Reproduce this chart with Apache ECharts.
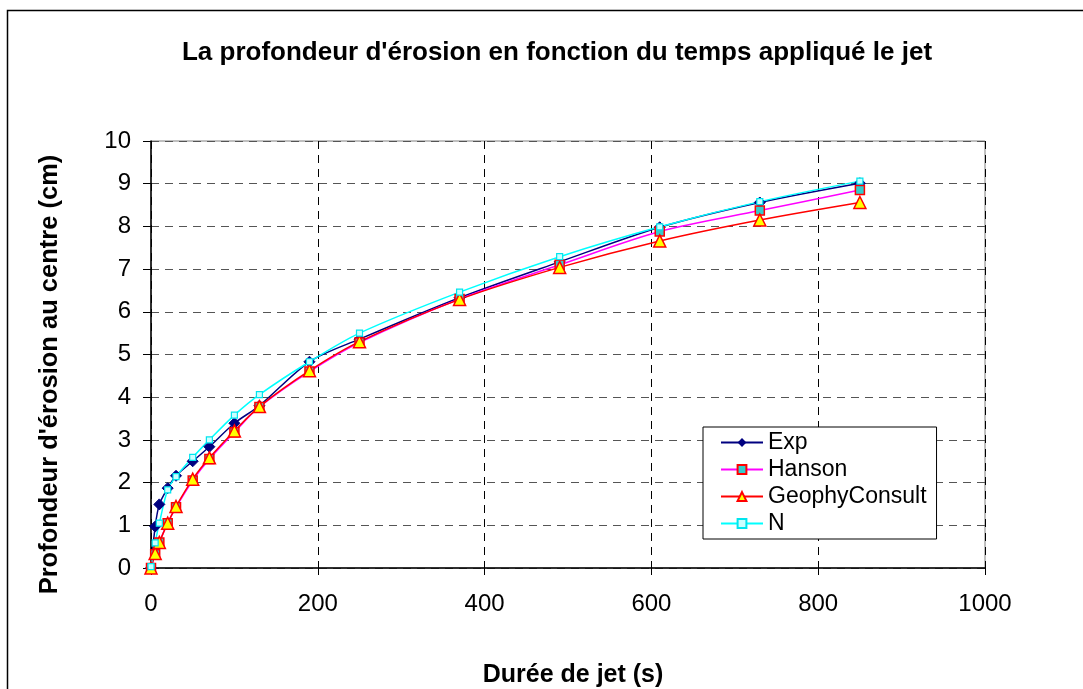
<!DOCTYPE html>
<html>
<head>
<meta charset="utf-8">
<script src="https://cdn.jsdelivr.net/npm/echarts@6/dist/echarts.min.js"></script>
<style>
html, body { margin: 0; padding: 0; background: #fff; }
#chart { width: 1083px; height: 689px; }
</style>
</head>
<body>
<div id="chart"></div>
<script>
var times = [0, 5, 10, 20, 30, 50, 70, 100, 130, 190, 250, 370, 490, 610, 730, 850];
var expVals = [0, 0.97, 1.49, 1.87, 2.16, 2.5, 2.84, 3.39, 3.8, 4.83, 5.36, 6.33, 7.17, 7.98, 8.56, 9.01];
var hansonVals = [0, 0.32, 0.6, 1.05, 1.42, 2.05, 2.55, 3.18, 3.77, 4.6, 5.28, 6.3, 7.1, 7.88, 8.37, 8.85];
var geoVals = [0, 0.34, 0.6, 1.05, 1.44, 2.08, 2.58, 3.21, 3.78, 4.62, 5.3, 6.29, 7.04, 7.66, 8.15, 8.56];
var nVals = [0.03, 0.59, 1.05, 1.83, 2.14, 2.59, 3.0, 3.58, 4.06, 4.83, 5.5, 6.46, 7.29, 7.99, 8.58, 9.06];

function pairs(vals) {
    return times.map(function (t, i) { return [t, vals[i]]; });
}

var font = 'Liberation Sans, Arial, sans-serif';
var myChart = echarts.init(document.getElementById('chart'));
var option = {
    animation: false,
    backgroundColor: '#fff',
    graphic: [{
        type: 'rect',
        shape: { x: 7.5, y: 10.5, width: 1100, height: 700 },
        style: { fill: 'none', stroke: '#000', lineWidth: 1.5 },
        silent: true
    }],
    title: {
        text: "La profondeur d'érosion en fonction du temps appliqué le jet",
        left: 552,
        textAlign: 'center',
        top: 35,
        textStyle: { fontFamily: font, fontSize: 26, fontWeight: 'bold', color: '#000' }
    },
    grid: {
        left: 151, right: 98, top: 141, bottom: 121,
        outerBoundsMode: 'none',
        show: true, borderColor: '#808080', borderWidth: 1
    },
    legend: {
        orient: 'vertical',
        left: 703, top: 427,
        padding: [4, 10, 4, 17],
        itemGap: 4,
        itemWidth: 42,
        itemHeight: 11,
        borderColor: '#000', borderWidth: 1,
        backgroundColor: '#fff',
        textStyle: { fontFamily: font, fontSize: 23, color: '#000' },
        data: ['Exp', 'Hanson', 'GeophyConsult', 'N']
    },
    xAxis: {
        type: 'value',
        min: 0, max: 1000, interval: 200,
        name: 'Durée de jet (s)',
        nameLocation: 'middle',
        nameGap: 95,
        nameTextStyle: { fontFamily: font, fontSize: 25, fontWeight: 'bold', color: '#000', padding: [0, 0, 0, 10] },
        axisLine: { show: true, lineStyle: { color: '#000', width: 1.5 } },
        axisTick: { show: true, length: 7, lineStyle: { color: '#000' } },
        axisLabel: { fontFamily: font, fontSize: 24, color: '#000', margin: 24, formatter: function (v) { return String(v); } },
        splitLine: { show: true, lineStyle: { color: '#000', type: [8, 6], width: 1 } }
    },
    yAxis: {
        type: 'value',
        min: 0, max: 10, interval: 1,
        name: "Profondeur d'érosion au centre (cm)",
        nameLocation: 'middle',
        nameGap: 88,
        nameTextStyle: { fontFamily: font, fontSize: 25.5, fontWeight: 'bold', color: '#000', padding: [0, 40, 0, 0] },
        axisLine: { show: true, lineStyle: { color: '#000', width: 1.5 } },
        axisTick: { show: true, length: 8, lineStyle: { color: '#000' } },
        axisLabel: { fontFamily: font, fontSize: 24, color: '#000', margin: 20 },
        splitLine: { show: true, lineStyle: { color: '#555', type: [8, 6], width: 1 } }
    },
    series: [
        {
            name: 'Exp', type: 'line', smooth: 0.3,
            data: pairs(expVals),
            symbol: 'diamond', symbolSize: 11,
            lineStyle: { color: '#000080', width: 1.5 },
            itemStyle: { color: '#000080', borderColor: '#000080' }
        },
        {
            name: 'Hanson', type: 'line', smooth: 0.3,
            data: pairs(hansonVals),
            symbol: 'rect', symbolSize: 9,
            lineStyle: { color: '#ff00ff', width: 1.5 },
            itemStyle: { color: '#33cccc', borderColor: '#ff0000', borderWidth: 1.5 }
        },
        {
            name: 'GeophyConsult', type: 'line', smooth: 0.3,
            data: pairs(geoVals),
            symbol: 'triangle', symbolSize: 12,
            lineStyle: { color: '#ff0000', width: 1.5 },
            itemStyle: { color: '#ffff00', borderColor: '#ff0000', borderWidth: 1.5 }
        },
        {
            name: 'N', type: 'line', smooth: 0.3,
            data: pairs(nVals),
            symbol: 'rect', symbolSize: 6,
            lineStyle: { color: '#00ffff', width: 1.5 },
            itemStyle: { color: '#ccffff', borderColor: '#00e5ee', borderWidth: 1.2 }
        }
    ]
};
myChart.setOption(option);
</script>
</body>
</html>
